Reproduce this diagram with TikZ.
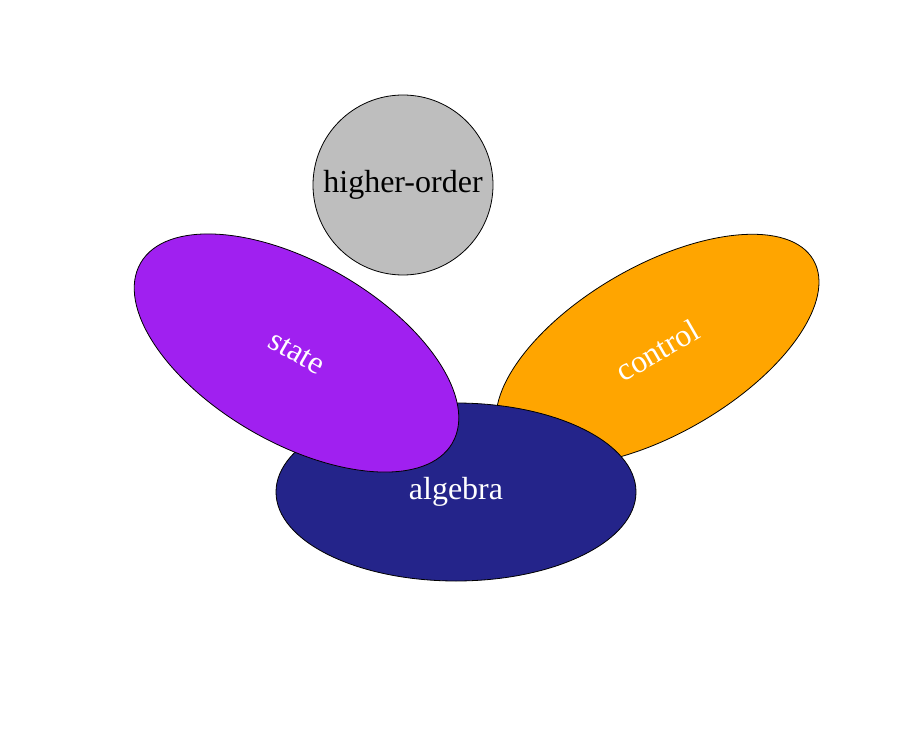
\documentclass[tikz,border=0pt]{standalone}
\usepackage{fontspec}
\setmainfont{Liberation Serif}
\usetikzlibrary{shapes.geometric}
\definecolor{cpurple}{HTML}{A020F0}
\definecolor{corange}{HTML}{FFA500}
\definecolor{cnavy}{RGB}{36,36,138}
\definecolor{cgray}{HTML}{BEBEBE}
\begin{document}
\begin{tikzpicture}[x=1pt,y=1pt,
  blob/.style={ellipse, draw=black, line width=0.8pt, inner sep=0pt,
    minimum width=360pt, minimum height=180pt, font=\fontsize{32}{36}\selectfont},
  ball/.style={circle, draw=black, line width=0.8pt, inner sep=0pt,
    minimum size=180pt, font=\fontsize{32}{36}\selectfont}]
\useasboundingbox (0,0) rectangle (912,732);
\node[blob, fill=corange, text=white, rotate=30, minimum height=168pt] (control) at (657.5,382) {control};
\node[blob, fill=cnavy, text=white, minimum height=178pt] (algebra) at (456,240) {algebra};
\node[blob, fill=cpurple, text=white, rotate=-30] (state) at (296.5,379) {state};
\node[ball, fill=cgray, text=black] (higher) at (403,547) {higher-order};
\end{tikzpicture}
\end{document}
